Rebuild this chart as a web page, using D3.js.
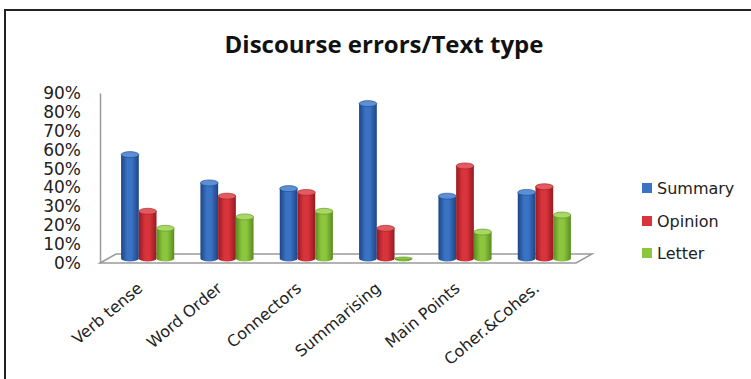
<!DOCTYPE html>
<html>
<head>
<meta charset="utf-8">
<script src="https://cdn.jsdelivr.net/npm/d3@7"></script>
<style>
  body { margin: 0; background: #fff; }
  svg { display: block; }
</style>
</head>
<body>
<div id="chart"></div>
<script>
// Chart data
const categories = ['Verb tense', 'Word Order', 'Connectors', 'Summarising', 'Main Points', 'Coher.&Cohes.'];
const seriesNames = ['Summary', 'Opinion', 'Letter'];
const summary = [0.55, 0.40, 0.37, 0.82, 0.33, 0.35];
const opinion = [0.25, 0.33, 0.35, 0.16, 0.49, 0.38];
const letter  = [0.16, 0.22, 0.25, 0.00, 0.14, 0.23];
const yTicks = [0, 0.1, 0.2, 0.3, 0.4, 0.5, 0.6, 0.7, 0.8, 0.9];

const colors = {
    Summary: { mid: '#3a72c4', edge: '#1d4585', top: '#5b8fd6' },
    Opinion: { mid: '#d8343c', edge: '#97191f', top: '#e45a60' },
    Letter:  { mid: '#8cc63e', edge: '#5a8c20', top: '#a6d863' }
};

const width = 751, height = 379;
const depthX = 16, depthY = 9;   // floor depth (3D look)

const svg = d3.select('#chart')
    .append('svg')
    .attr('width', width)
    .attr('height', height);

// Gradients for cylinders
const defs = svg.append('defs');
seriesNames.forEach(name => {
    const g = defs.append('linearGradient')
        .attr('id', 'grad-' + name)
        .attr('x1', '0%').attr('x2', '100%')
        .attr('y1', '0%').attr('y2', '0%');
    g.append('stop').attr('offset', '0%').attr('stop-color', colors[name].edge);
    g.append('stop').attr('offset', '35%').attr('stop-color', colors[name].mid);
    g.append('stop').attr('offset', '60%').attr('stop-color', colors[name].mid);
    g.append('stop').attr('offset', '100%').attr('stop-color', colors[name].edge);
});

// Frame
svg.append('rect')
    .attr('x', 5).attr('y', 10)
    .attr('width', width + 10).attr('height', height + 10)
    .attr('fill', 'none')
    .attr('stroke', '#222')
    .attr('stroke-width', 2);

// Title
svg.append('text')
    .attr('x', 384)
    .attr('y', 53)
    .attr('text-anchor', 'middle')
    .attr('font-family', 'Open Sans, sans-serif')
    .attr('font-weight', 'bold')
    .attr('font-size', 24)
    .attr('fill', '#111')
    .text('Discourse errors/Text type');

// Scales
const yScale = d3.scaleLinear()
    .domain([0, 0.9])
    .range([263, 93]);

const x0 = 100, x1 = 576;   // front edge of floor
const xScale = d3.scaleBand()
    .domain(categories)
    .range([x0 + depthX / 2, x1 + depthX / 2])
    .paddingInner(0.33)
    .paddingOuter(0.165);

const xSub = d3.scaleBand()
    .domain(seriesNames)
    .range([0, xScale.bandwidth()]);

// Floor
const y0 = yScale(0);
svg.append('path')
    .attr('d', `M${x0},${y0} L${x0 + depthX},${y0 - depthY} L${x1 + depthX},${y0 - depthY} L${x1},${y0} Z`)
    .attr('fill', '#fff')
    .attr('stroke', '#9a9a9a')
    .attr('stroke-width', 1.5);

// Y axis
const yAxis = d3.axisLeft(yScale)
    .tickValues(yTicks)
    .tickFormat(d3.format('.0%'))
    .tickSize(0)
    .tickPadding(19);

const gy = svg.append('g')
    .attr('transform', `translate(${x0},0)`)
    .call(yAxis);
gy.select('.domain').attr('stroke', '#9a9a9a').attr('stroke-width', 1.5);
gy.selectAll('text')
    .attr('font-family', 'DejaVu Sans, sans-serif')
    .attr('font-size', 17)
    .attr('fill', '#222');

// Bars (cylinders)
const seriesData = { Summary: summary, Opinion: opinion, Letter: letter };
const ry = 3;
const shift = depthY / 2;

categories.forEach((cat, i) => {
    seriesNames.forEach(name => {
        const v = seriesData[name][i];
        const bx = xScale(cat) + xSub(name);
        const bw = xSub.bandwidth();
        const rx = bw / 2;
        const yBase = yScale(0) - shift;
        const yTop = yScale(v) - shift;

        svg.append('path')
            .attr('d', `M${bx},${yTop} L${bx},${yBase} A${rx},${ry} 0 0 0 ${bx + bw},${yBase} L${bx + bw},${yTop} Z`)
            .attr('fill', `url(#grad-${name})`);

        svg.append('ellipse')
            .attr('cx', bx + rx)
            .attr('cy', yTop)
            .attr('rx', rx)
            .attr('ry', v > 0 ? ry : 1.5)
            .attr('fill', v > 0 ? colors[name].top : colors[name].mid)
            .attr('stroke', colors[name].edge)
            .attr('stroke-width', 0.6);
    });
});

// X labels
categories.forEach(cat => {
    const cx = xScale(cat) + xScale.bandwidth() / 2;
    svg.append('text')
        .attr('transform', `translate(${cx - 4},${290}) rotate(-40)`)
        .attr('text-anchor', 'end')
        .attr('font-family', 'DejaVu Sans, sans-serif')
        .attr('font-size', 16)
        .attr('fill', '#222')
        .text(cat);
});

// Legend
const legend = svg.append('g')
    .attr('transform', 'translate(642,0)');
const legendY = [188, 221, 253];
seriesNames.forEach((name, i) => {
    legend.append('rect')
        .attr('x', 0)
        .attr('y', legendY[i] - 5)
        .attr('width', 10)
        .attr('height', 10)
        .attr('fill', colors[name].mid);
    legend.append('text')
        .attr('x', 15)
        .attr('y', legendY[i])
        .attr('dy', '0.35em')
        .attr('font-family', 'DejaVu Sans, sans-serif')
        .attr('font-size', 16)
        .attr('fill', '#222')
        .text(name);
});
</script>
</body>
</html>
